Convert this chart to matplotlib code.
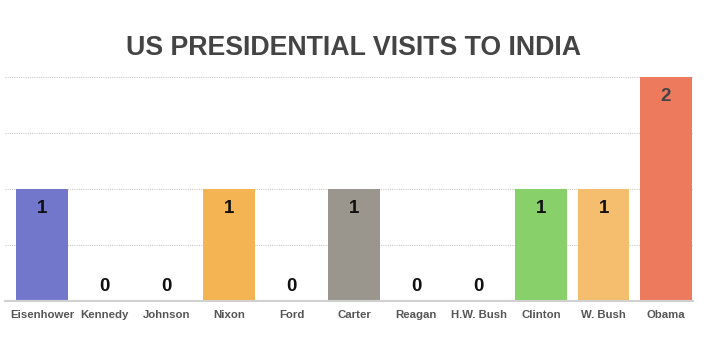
import matplotlib
matplotlib.use("Agg")
import matplotlib.pyplot as plt

presidents = ["Eisenhower", "Kennedy", "Johnson", "Nixon", "Ford", "Carter",
              "Reagan", "H.W. Bush", "Clinton", "W. Bush", "Obama"]
visits = [1, 0, 0, 1, 0, 1, 0, 0, 1, 1, 2]
colors = ["#7277CC", "#7277CC", "#7277CC", "#F4B454", "#F4B454", "#9A968E",
          "#9A968E", "#9A968E", "#88D06A", "#F4BE6E", "#EE7A5E"]

plt.rcParams['font.family'] = ['Liberation Sans', 'DejaVu Sans']

fig = plt.figure(figsize=(7.23, 3.5), dpi=100)
W, H = 723, 350
ax = fig.add_axes([5 / W, (H - 301) / H, (693 - 5) / W, (301 - 77) / H])

x = list(range(len(presidents)))
ax.bar(x, visits, width=0.83, color=colors, zorder=2)

ax.set_xlim(-0.593, 10.433)
ax.set_ylim(0, 2)
ax.set_yticks([0.5, 1, 1.5, 2])
ax.yaxis.grid(True, linestyle=(0, (1, 1)), color="#cccccc", linewidth=0.8, zorder=0)
ax.tick_params(axis='y', left=False, labelleft=False)
ax.tick_params(axis='x', bottom=False, pad=3)
ax.set_xticks(x)
ax.set_xticklabels(presidents, fontsize=8.2, fontweight='bold', color="#555555")
for s in ["top", "left", "right"]:
    ax.spines[s].set_visible(False)
ax.spines["bottom"].set_color("#d0d0d0")
ax.spines["bottom"].set_linewidth(1.5)

for xi, v in zip(x, visits):
    if v == 0:
        ax.annotate(str(v), (xi, 0), xytext=(0, 4), textcoords="offset points",
                    ha="center", va="bottom", fontsize=13.5, fontweight="bold", color="#111111")
    else:
        ax.annotate(str(v), (xi, v), xytext=(0, -8), textcoords="offset points",
                    ha="center", va="top", fontsize=13.5, fontweight="bold",
                    color="#444444" if v == 2 else "#111111")

fig.text(354 / W, (H - 48) / H, "US PRESIDENTIAL VISITS TO INDIA", ha="center", va="center",
         fontsize=19.3, fontweight="bold", color="#444444")

fig.savefig("out.png", dpi=100)
